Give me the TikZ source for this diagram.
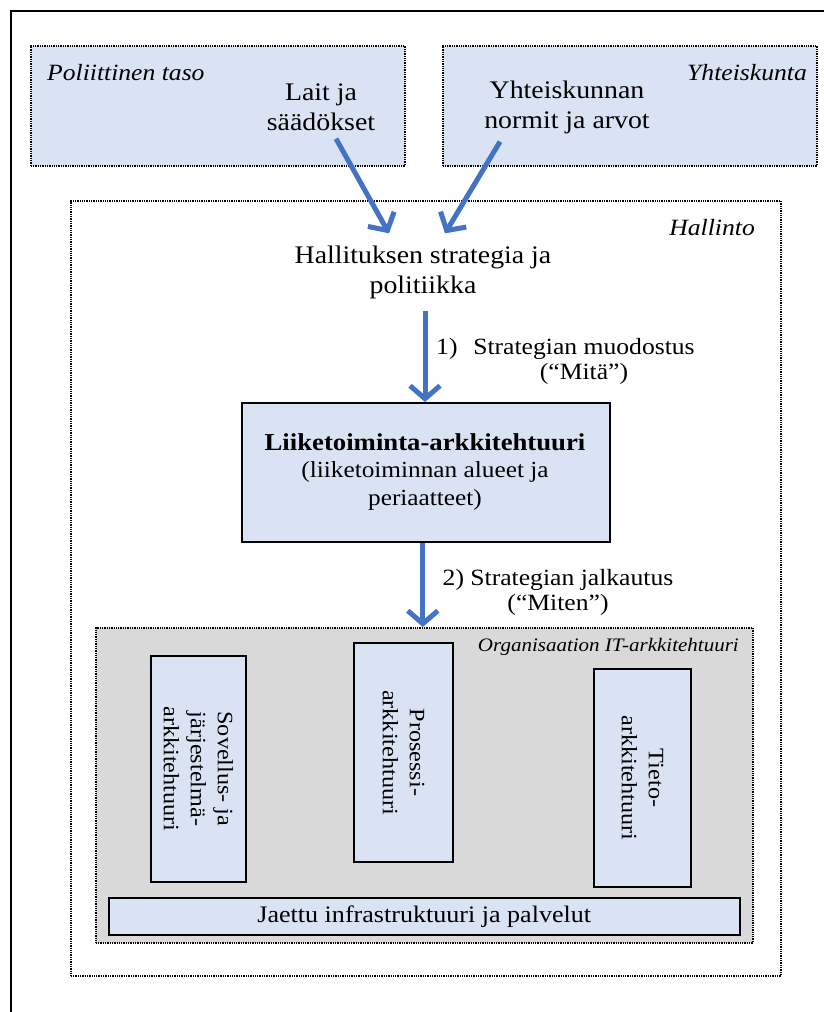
\documentclass[tikz,border=0pt]{standalone}
\usepackage{fontspec}
\setmainfont{Liberation Serif}[FakeStretch=1.1]
\usetikzlibrary{arrows.meta}
\definecolor{boxblue}{HTML}{DAE3F3}
\definecolor{itgray}{HTML}{D9D9D9}
\definecolor{arrowblue}{HTML}{4472C4}
\begin{document}
\begin{tikzpicture}[x=1pt,y=-1pt,
  zone/.style={draw=black, line width=1.6pt, dash pattern=on 1.3pt off 1pt, anchor=north west, inner sep=0pt},
  solidbox/.style={draw=black, line width=1.6pt, fill=boxblue, inner sep=0pt},
  bigarrow/.style={draw=arrowblue, line width=5pt, -{Straight Barb[length=13pt,width=30pt,line width=5pt]}},
  maintext/.style={font=\fontsize{25.3}{30}\selectfont, align=center, inner sep=0pt},
  labeltext/.style={font=\fontsize{23.3}{25}\selectfont, align=center, inner sep=0pt},
  zonetitle/.style={font=\fontsize{23.3}{26}\selectfont\itshape, inner sep=0pt},
  verttext/.style={solidbox, rotate=-90, font=\fontsize{22}{27}\selectfont, align=center}]
\useasboundingbox (0,0) rectangle (824,1012);
% outer frame (left and top edges)
\draw[line width=2pt] (11,1012) -- (11,11) -- (824,11);
% upper zones
\node[zone, fill=boxblue, minimum width=374pt, minimum height=120pt] (pol) at (30,45) {};
\node[zone, fill=boxblue, minimum width=374pt, minimum height=120pt] (yht) at (442,45) {};
\node[zonetitle, anchor=base west] (poltitle) at (47,80) {Poliittinen taso};
\node[zonetitle, anchor=base east] (yhttitle) at (807,80) {Yhteiskunta};
\node[maintext] (lait) at (321,107) {Lait ja\\säädökset};
\node[maintext] (normit) at (567,107) {Yhteiskunnan\\normit ja arvot};
% government zone
\node[zone, fill=white, minimum width=710pt, minimum height=775pt] (hallinto) at (70,200) {};
\node[zonetitle, anchor=base east] (halltitle) at (755,235) {Hallinto};
\node[maintext] (hal) at (423,272) {Hallituksen strategia ja\\politiikka};
% business architecture
\node[solidbox, anchor=north west, minimum width=368pt, minimum height=139pt] (liike) at (241,402) {};
\node[align=center, inner sep=0pt, font=\fontsize{23}{27.5}\selectfont] (liiketext) at (425,472)
  {{\fontsize{24.3}{27.5}\selectfont\bfseries Liiketoiminta-arkkitehtuuri}\\(liiketoiminnan alueet ja\\periaatteet)};
% strategy labels
\node[labeltext, anchor=base west] (num1) at (436,354) {1)};
\node[labeltext, anchor=base] (lab1) at (584,379) {Strategian muodostus\\(“Mitä”)};
\node[labeltext, anchor=base] (lab2) at (558,610) {2) Strategian jalkautus\\(“Miten”)};
% organisation IT architecture
\node[zone, fill=itgray, minimum width=657pt, minimum height=315pt] (org) at (95,627) {};
\node[zonetitle, anchor=base east, font=\fontsize{19.1}{22}\selectfont\itshape] (orgtitle) at (739,651) {Organisaation IT-arkkitehtuuri};
\node[verttext, minimum width=226pt, minimum height=95pt] (sov) at (198.5,769) {Sovellus- ja\\järjestelmä-\\arkkitehtuuri};
\node[verttext, minimum width=219pt, minimum height=99pt] (pros) at (403.5,752.5) {Prosessi-\\arkkitehtuuri};
\node[verttext, minimum width=218pt, minimum height=97pt] (tieto) at (642.5,778) {Tieto-\\arkkitehtuuri};
\node[solidbox, anchor=north west, minimum width=631pt, minimum height=37pt,
  font=\fontsize{23.7}{26}\selectfont] (jaettu) at (108,897) {Jaettu infrastruktuuri ja palvelut};
% arrows
\draw[bigarrow] ([xshift=15pt,yshift=-8pt]lait.south) -- ([xshift=-34pt,yshift=12pt]hal.north);
\draw[bigarrow] ([xshift=-67pt,yshift=-8pt]normit.south) -- ([xshift=22pt,yshift=12pt]hal.north);
\draw[bigarrow] ([xshift=2pt,yshift=-12pt]hal.south) -- ([xshift=2pt]hal.south |- liike.north);
\draw[bigarrow] ([xshift=-3pt]liike.south) -- ([xshift=-3pt]liike.south |- org.north);
\end{tikzpicture}
\end{document}
